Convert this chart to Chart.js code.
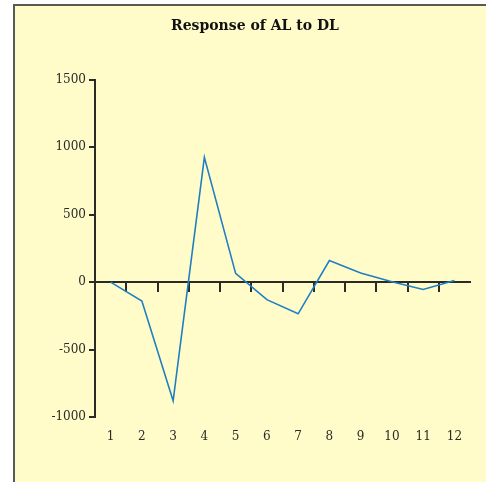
<!DOCTYPE html>
<html>
<head>
<meta charset="utf-8">
<script src="https://cdn.jsdelivr.net/npm/chart.js@4/dist/chart.umd.min.js"></script>
<style>
  html, body { margin: 0; padding: 0; background: #ffffff; }
  body { width: 486px; height: 482px; position: relative; overflow: hidden; }
  #panel {
    position: absolute; left: 13px; top: 4px; right: 0; bottom: 0;
    background: #fffcca;
    border-left: 2px solid #5a5a55;
    border-top: 2px solid #5a5a55;
  }
  #wrap { position: absolute; left: 0; top: 0; width: 486px; height: 482px; }
</style>
</head>
<body>
<div id="panel"></div>
<div id="wrap"><canvas id="chart" width="486" height="482"></canvas></div>
<script>
// Impulse response periods
const periods = ['1', '2', '3', '4', '5', '6', '7', '8', '9', '10', '11', '12'];
// Response of AL to a shock in DL
const responseAL = [0, -140, -880, 925, 65, -130, -235, 160, 68, 2, -55, 12];
// Vertical axis range and step
const yMin = -1000;
const yMax = 1500;
const yStep = 500;

const ink = '#2a2a26';
const serif = '"DejaVu Serif", "Liberation Serif", serif';

new Chart(document.getElementById('chart'), {
  type: 'line',
  data: {
    labels: periods,
    datasets: [{
      data: responseAL,
      xAxisID: 'x',
      borderColor: '#1f7fc2',
      borderWidth: 1.6,
      pointRadius: 0,
      tension: 0,
      fill: false
    }]
  },
  options: {
    responsive: false,
    animation: false,
    layout: { padding: { left: 40, right: 16, top: 0, bottom: 0 } },
    plugins: {
      legend: { display: false },
      tooltip: { enabled: false },
      title: {
        display: true,
        text: 'Response of AL to DL',
        color: '#111',
        font: { family: serif, size: 14, weight: 'bold' },
        padding: { top: 18, bottom: 45 }
      }
    },
    scales: {
      x: {
        type: 'category',
        position: 'bottom',
        offset: true,
        border: { display: false },
        grid: { display: false, drawTicks: false },
        ticks: {
          color: ink,
          padding: 13,
          font: { family: serif, size: 12 },
          maxRotation: 0,
          autoSkip: false
        },
        afterFit: (s) => { s.height = 65; }
      },
      // zero line with period separators hanging below it
      xZero: {
        type: 'category',
        position: { y: 0 },
        offset: true,
        border: { display: true, color: ink, width: 2 },
        grid: {
          display: true,
          offset: true,
          drawOnChartArea: false,
          drawTicks: true,
          tickLength: 9,
          color: (ctx) => (ctx.type !== 'tick' || ctx.index === 0) ? 'rgba(0,0,0,0)' : ink,
          lineWidth: 2
        },
        ticks: { display: false }
      },
      y: {
        type: 'linear',
        position: 'left',
        min: yMin,
        max: yMax,
        border: { display: true, color: ink, width: 2 },
        grid: {
          display: true,
          drawOnChartArea: false,
          drawTicks: true,
          tickLength: 6,
          color: ink,
          lineWidth: 2
        },
        ticks: {
          stepSize: yStep,
          color: ink,
          padding: 3,
          font: { family: serif, size: 12 },
          callback: (v) => String(v)
        },
        afterFit: (s) => { s.width = 55; }
      }
    }
  }
});
</script>
</body>
</html>
